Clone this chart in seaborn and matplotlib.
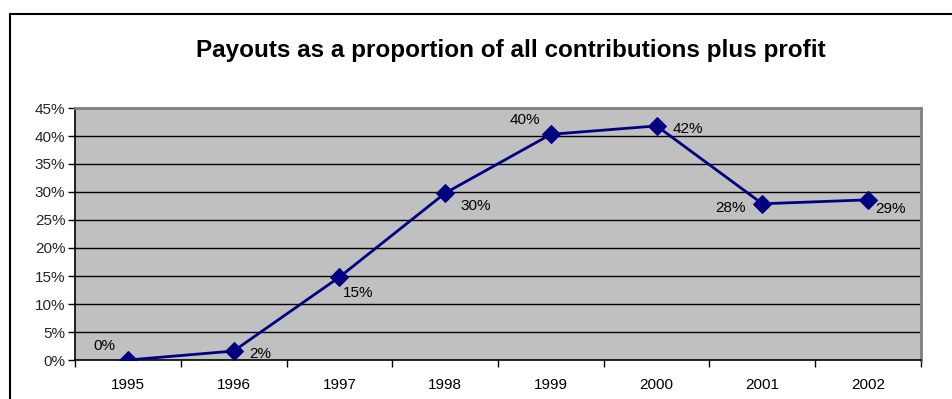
import matplotlib
matplotlib.use("Agg")
import matplotlib.pyplot as plt
from matplotlib.ticker import FixedLocator, PercentFormatter
import seaborn as sns
import pandas as pd

years = ["1995", "1996", "1997", "1998", "1999", "2000", "2001", "2002"]
payout_share = [0.0, 1.6, 14.8, 29.8, 40.3, 41.8, 27.9, 28.6]
point_labels = ["0%", "2%", "15%", "30%", "40%", "42%", "28%", "29%"]
yticks = [0, 5, 10, 15, 20, 25, 30, 35, 40, 45]

# label offsets (pixels) and alignment
label_offsets = [(-23, 14, "center"), (16, -3, "left"), (4, -16, "left"), (15, -13, "left"),
                 (-26, 14, "center"), (16, -3, "left"), (-32, -4, "center"), (7, -9, "left")]

sns.set_theme(style="white")
plt.rcParams['font.family'] = ['Liberation Sans', 'DejaVu Sans']

df = pd.DataFrame({"year": years, "share": payout_share})

fig = plt.figure(figsize=(9.52, 3.99), dpi=100)
ax = fig.add_axes([75/952, 1-360/399, (921-75)/952, (360-108)/399])
ax.set_facecolor("#c0c0c0")

for y in yticks[1:]:
    ax.axhline(y, color="#000000", lw=1.0, zorder=1)

sns.lineplot(data=df, x="year", y="share", ax=ax, color="#000080", lw=2,
             marker="D", markersize=9.5, markeredgecolor="#000080", zorder=3, sort=False)

n = len(years)
ax.set_xlim(-0.5, n - 0.5)
ax.set_ylim(0, 45)
ax.set_yticks(yticks)
ax.yaxis.set_major_formatter(PercentFormatter(decimals=0))
ax.set_xticks(range(n))
ax.set_xticklabels(years)
ax.xaxis.set_minor_locator(FixedLocator([i - 0.5 for i in range(n + 1)]))
ax.tick_params(axis="x", which="major", length=0, pad=13, labelsize=11, colors="black")
ax.tick_params(axis="x", which="minor", length=5, width=1, color="black", direction="out", bottom=True)
ax.tick_params(axis="y", length=5, width=1, color="black", direction="out", left=True, labelsize=11, pad=2)
ax.set_xlabel("")
ax.set_ylabel("")

for s in ["top", "right"]:
    ax.spines[s].set_color("#808080")
    ax.spines[s].set_linewidth(2)
for s in ["left", "bottom"]:
    ax.spines[s].set_color("black")
    ax.spines[s].set_linewidth(1.2)

for i, (lab, (dx, dy, ha)) in enumerate(zip(point_labels, label_offsets)):
    ax.annotate(lab, (i, payout_share[i]), xytext=(dx*0.72, dy*0.72), textcoords="offset points",
                ha=ha, va="center", fontsize=11, color="black", zorder=4)

fig.text(511/952, 1-50/399, "Payouts as a proportion of all contributions plus profit",
         ha="center", va="center", fontsize=17.5, fontweight="bold", color="black")

# outer chart border (extends beyond bottom/right edges)
fig.add_artist(plt.Line2D([10/952, 10/952], [0, 1-14/399], transform=fig.transFigure, color="black", lw=1.5))
fig.add_artist(plt.Line2D([10/952, 1], [1-14/399, 1-14/399], transform=fig.transFigure, color="black", lw=1.5))

fig.savefig("out.png", dpi=100)
